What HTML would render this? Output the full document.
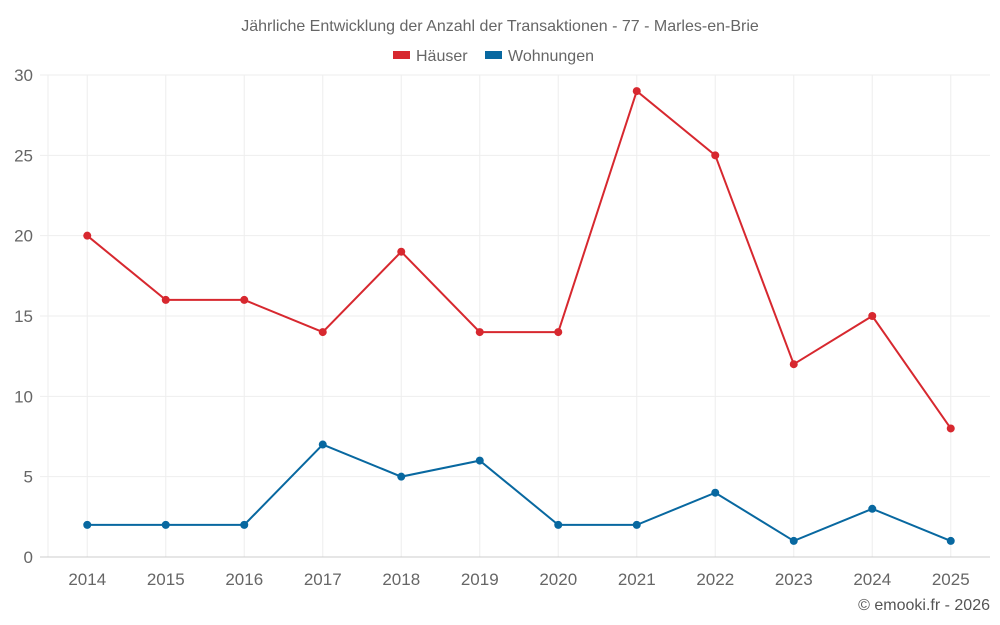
<!DOCTYPE html>
<html><head><meta charset="utf-8"><style>
html,body{margin:0;padding:0;background:#fff;}
svg{display:block;font-family:"Liberation Sans",sans-serif;}
</style></head><body>
<svg id="chart" width="1000" height="625">
<text x="500" y="31" text-anchor="middle" font-size="16" fill="#666">Jährliche Entwicklung der Anzahl der Transaktionen - 77 - Marles-en-Brie</text>
<g><rect x="393" y="51" width="17" height="8" fill="#d7282f"/><text x="416" y="61" font-size="16" fill="#666">Häuser</text></g>
<g><rect x="485" y="51" width="17" height="8" fill="#0868a0"/><text x="508" y="61" font-size="16" fill="#666">Wohnungen</text></g>
<g id="grid"></g><g id="series"></g>
<text x="990" y="610" text-anchor="end" font-size="16" fill="#555">© emooki.fr - 2026</text>
</svg>
<script>
const years=["2014","2015","2016","2017","2018","2019","2020","2021","2022","2023","2024","2025"];
const haeuser=[20,16,16,14,19,14,14,29,25,12,15,8];
const wohnungen=[2,2,2,7,5,6,2,2,4,1,3,1];
const yTicks=[0,5,10,15,20,25,30];
const NS="http://www.w3.org/2000/svg";
const L=48,R=990,T=75,B=557,yMax=30;
const step=(R-L)/years.length;
const xs=i=>L+step*(i+0.5);
const ys=v=>B-(v/yMax)*(B-T);
const g=document.getElementById('grid'),s=document.getElementById('series');
function mk(t,a,p){const e=document.createElementNS(NS,t);for(const k in a)e.setAttribute(k,a[k]);p.appendChild(e);return e;}
const left=mk('line',{x1:L,x2:L,y1:T,y2:B,stroke:'#eee'},g);


years.forEach((y,i)=>{
 const ln=mk('line',{x1:xs(i),x2:xs(i),y1:T,y2:B,stroke:'#eee'},g);
 
 
 const t=mk('text',{x:xs(i),y:585,'text-anchor':'middle','font-size':17,fill:'#666'},g);t.textContent=y;
 
 
});
yTicks.forEach(v=>{
 const ln=mk('line',{x1:40,x2:R,y1:ys(v),y2:ys(v),stroke:v===0?'#ccc':'#eee'},g);
 
 
 const t=mk('text',{x:33,y:ys(v)+6,'text-anchor':'end','font-size':17,fill:'#666'},g);t.textContent=v;
 
 
});
function series(data,color,name){
 const p=mk('polyline',{points:data.map((v,i)=>xs(i)+','+ys(v)).join(' '),fill:'none',stroke:color,'stroke-width':2},s);
 
 
 data.forEach((v,i)=>{
  const c=mk('circle',{cx:xs(i),cy:ys(v),r:4,fill:color},s);
  
  
 });
}
series(haeuser,'#d7282f','haeuser');
series(wohnungen,'#0868a0','wohnungen');
</script>
</body></html>
